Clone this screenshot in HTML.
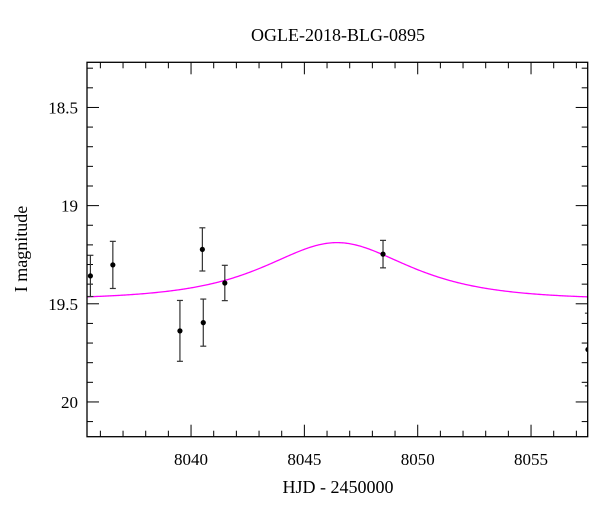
<!DOCTYPE html>
<html><head><meta charset="utf-8"><style>
body{margin:0;background:#fff;}
svg text{font-family:"Liberation Serif",serif;fill:#000;}
</style></head><body>
<svg id="chart" width="600" height="512" viewBox="0 0 600 512" xmlns="http://www.w3.org/2000/svg">
<rect width="600" height="512" fill="#fff"/>
<text x="338" y="41" font-size="18" text-anchor="middle">OGLE-2018-BLG-0895</text>
<text x="338" y="493" font-size="18" text-anchor="middle">HJD - 2450000</text>
<text x="0" y="0" font-size="18" text-anchor="middle" transform="translate(27,249) rotate(-90)">I magnitude</text>
<g id="ticks"></g>
<g id="model"></g>
<g id="points"></g>
<rect x="87" y="62.3" width="500.7" height="374.4" fill="none" stroke="#000" stroke-width="1.3"/>
</svg>
<script>
const times = [8035.56, 8036.55, 8039.51, 8040.50, 8040.54, 8041.49, 8048.47, 8057.51];
const mags = [19.358, 19.302, 19.638, 19.223, 19.596, 19.394, 19.247, 19.733];
const errs = [0.105, 0.12, 0.155, 0.11, 0.12, 0.09, 0.07, 0.185];
const xTicks = [8040, 8045, 8050, 8055];
const yTicks = [18.5, 19, 19.5, 20];
const modelT0 = 8046.44, modelU0 = 1.05, modelTE = 3.7, modelBase = 19.48;

const X0=87, X1=587.7, Y0=62.3, Y1=436.7;
const xmin=8035.41, xmax=8057.5, ymin=18.27, ymax=20.177;
const xs = t => X0 + (t - xmin) / (xmax - xmin) * (X1 - X0);
const ys = m => Y0 + (m - ymin) / (ymax - ymin) * (Y1 - Y0);
const NS = "http://www.w3.org/2000/svg";
function mk(tag, attrs, parent){const e=document.createElementNS(NS,tag);for(const k in attrs)e.setAttribute(k,attrs[k]);parent.appendChild(e);return e;}

const tg = document.getElementById('ticks');
for (let t = Math.ceil(xmin); t <= xmax; t++) {
  const major = t % 5 === 0, L = major ? 12 : 6, x = xs(t);
  const a = mk('line',{x1:x,y1:Y1,x2:x,y2:Y1-L,stroke:'#000','stroke-width':1},tg);
  
  
  const b = mk('line',{x1:x,y1:Y0,x2:x,y2:Y0+L,stroke:'#000','stroke-width':1},tg);
  
  
}
xTicks.forEach(v => {
  const t = mk('text',{x:xs(v),y:465,'font-size':17,'text-anchor':'middle'},tg);
  t.textContent = v;
  
  
});
for (let i = Math.ceil(ymin*10); i <= ymax*10; i++) {
  const m = i/10, major = i % 5 === 0, L = major ? 12 : 6, y = ys(m);
  const a = mk('line',{x1:X0,y1:y,x2:X0+L,y2:y,stroke:'#000','stroke-width':1},tg);
  
  
  const b = mk('line',{x1:X1,y1:y,x2:X1-L,y2:y,stroke:'#000','stroke-width':1},tg);
  
  
}
yTicks.forEach(v => {
  const t = mk('text',{x:78,y:ys(v)+6,'font-size':17,'text-anchor':'end'},tg);
  t.textContent = String(v);
  
  
});

const mg = document.getElementById('model');
let d = '';
for (let i = 0; i <= 400; i++) {
  const t = xmin + (xmax - xmin) * i / 400;
  const tau = (t - modelT0) / modelTE, u = Math.sqrt(modelU0*modelU0 + tau*tau);
  const A = (u*u + 2) / (u * Math.sqrt(u*u + 4));
  const m = modelBase - 2.5 * Math.log10(A);
  d += (i ? 'L' : 'M') + xs(t).toFixed(2) + ',' + ys(m).toFixed(2);
}
const path = mk('path',{d:d,fill:'none',stroke:'#ff00ff','stroke-width':1.3},mg);



const pg = document.getElementById('points');
mk('clipPath',{id:'clip'},pg).appendChild(document.createElementNS(NS,'rect'));
const cr = pg.querySelector('#clip rect');
cr.setAttribute('x',X0);cr.setAttribute('y',Y0);cr.setAttribute('width',X1-X0);cr.setAttribute('height',Y1-Y0);
const inner = mk('g',{'clip-path':'url(#clip)'},pg);
times.forEach((t, i) => {
  const x = xs(t), y = ys(mags[i]), ya = ys(mags[i]-errs[i]), yb = ys(mags[i]+errs[i]);
  const g = mk('g',{},inner);
  
  
  mk('line',{x1:x,y1:ya,x2:x,y2:yb,stroke:'#333','stroke-width':1.2},g);
  mk('line',{x1:x-3,y1:ya,x2:x+3,y2:ya,stroke:'#333','stroke-width':1.2},g);
  mk('line',{x1:x-3,y1:yb,x2:x+3,y2:yb,stroke:'#333','stroke-width':1.2},g);
  mk('circle',{cx:x,cy:y,r:2.6,fill:'#000'},g);
});
</script>
</body></html>
